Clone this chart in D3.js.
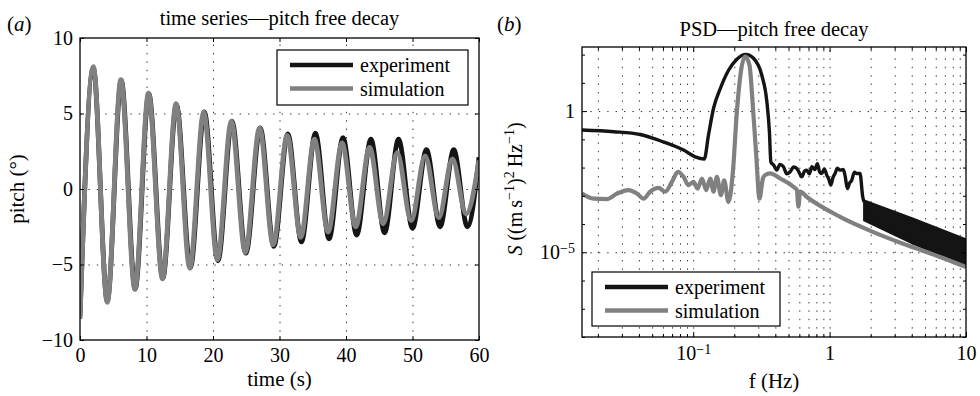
<!DOCTYPE html>
<html lang="en">
<head>
<meta charset="utf-8">
<title>pitch free decay</title>
<script src="https://cdn.jsdelivr.net/npm/d3@7"></script>
<style>
  body { margin: 0; background: #fff; }
  svg { display: block; }
  svg text { font-family: "Liberation Serif", "DejaVu Serif", serif; }
</style>
</head>
<body>
<div id="chart"></div>
<script>
const width = 980, height = 396;
const black = '#141414', grey = '#808080';

// (a) time series: peaks and troughs
const timeExp  = [0, 2.0, 4.1, 6.2, 8.3, 10.35, 12.45, 14.5, 16.6, 18.7, 20.75, 22.85, 24.95, 27.1, 29.15, 31.25, 33.3, 35.4, 37.45, 39.55, 41.6, 43.75, 45.8, 47.9, 50.0, 52.1, 54.15, 56.2, 58.25, 60];
const pitchExp = [-8.4, 8.0, -7.4, 7.2, -6.6, 6.3, -5.9, 5.6, -5.2, 5.1, -4.75, 4.5, -4.25, 4.05, -3.8, 3.65, -3.5, 3.7, -3.3, 3.4, -3.05, 3.3, -2.9, 3.3, -2.6, 2.6, -2.5, 2.6, -2.5, 2.1];
const timeSim  = [0, 2.0, 4.1, 6.15, 8.25, 10.3, 12.4, 14.45, 16.5, 18.6, 20.65, 22.75, 24.85, 27.0, 29.05, 31.15, 33.2, 35.25, 37.3, 39.4, 41.45, 43.55, 45.6, 47.7, 49.8, 51.9, 53.95, 56.0, 58.05, 60];
const pitchSim = [-8.6, 8.1, -7.5, 7.25, -6.65, 6.35, -5.95, 5.65, -5.25, 5.1, -4.7, 4.5, -4.2, 4.05, -3.7, 3.55, -3.2, 3.3, -2.85, 3.05, -2.5, 2.75, -2.3, 2.4, -2.1, 2.2, -1.9, 2.0, -1.65, 1.9];

// (b) PSD
const expFreq = [0.0153, 0.0261, 0.0409, 0.0605, 0.0849, 0.1035, 0.1205, 0.1294, 0.141, 0.158, 0.1816, 0.209, 0.243, 0.2767, 0.318, 0.347, 0.362, 0.371, 0.390, 0.410, 0.432, 0.459, 0.485, 0.514, 0.545, 0.575, 0.600, 0.626, 0.655, 0.681, 0.710, 0.741, 0.780, 0.814, 0.845, 0.877, 0.915, 0.953, 0.985, 1.02, 1.06, 1.097, 1.14, 1.19, 1.26, 1.30, 1.35, 1.40, 1.45, 1.52, 1.58, 1.67, 1.75, 1.79];
const expPsd  = [0.214, 0.186, 0.148, 0.081, 0.0417, 0.024, 0.020, 0.141, 1.26, 6.3, 28, 69, 102, 74, 19, 2.1, 0.186, 0.0158, 0.0120, 0.0081, 0.0130, 0.0107, 0.0060, 0.0071, 0.0105, 0.0093, 0.0065, 0.0047, 0.0075, 0.0081, 0.0060, 0.0107, 0.0085, 0.0138, 0.0070, 0.0062, 0.0090, 0.0054, 0.0040, 0.0024, 0.0045, 0.0062, 0.0095, 0.0081, 0.0085, 0.0050, 0.0018, 0.0028, 0.0035, 0.0068, 0.0062, 0.0062, 0.00091, 0.00060];
// fast oscillating part of the experiment above 1.8 Hz (upper / lower envelope)
const bandFreq = [1.79, 4.11, 10];
const bandHigh = [6.9e-4, 1.55e-4, 2.9e-5];
const bandLow  = [1.35e-4, 2.0e-5, 3.5e-6];

const simFreq = [0.0153, 0.0186, 0.0233, 0.0276, 0.0336, 0.0387, 0.0433, 0.0484, 0.0557, 0.0624, 0.0698, 0.0773, 0.0849, 0.0924, 0.1005, 0.1076, 0.1159, 0.1245, 0.1333, 0.1409, 0.1492, 0.1596, 0.1687, 0.1814, 0.1954, 0.209, 0.2235, 0.2403, 0.2585, 0.2735, 0.2897, 0.3061, 0.3243, 0.3367, 0.3664, 0.4337, 0.5427, 0.5754, 0.5905, 0.6081, 0.6808, 1.194, 2.094, 3.68, 6.46, 10];
const simPsd  = [1.2e-3, 7.9e-4, 7.6e-4, 1.2e-3, 1.6e-3, 1.2e-3, 7.9e-4, 1.4e-3, 1.9e-3, 1.4e-3, 3.1e-3, 7.1e-3, 4.7e-3, 2.4e-3, 3.1e-3, 1.8e-3, 4.1e-3, 1.6e-3, 4.1e-3, 1.4e-3, 4.7e-3, 1.05e-3, 3.5e-3, 6.0e-4, 7.1e-3, 0.95, 24.5, 85, 43, 1.6, 2.75e-2, 7.9e-4, 4.1e-3, 5.4e-3, 6.2e-3, 4.1e-3, 2.1e-3, 1.6e-3, 4.1e-4, 1.4e-3, 9.1e-4, 1.8e-4, 5.2e-5, 1.8e-5, 6.8e-6, 3.0e-6];

// ticks
const timeTicks = [0, 10, 20, 30, 40, 50, 60];
const pitchTicks = [-10, -5, 0, 5, 10];
const freqTicks = [0.1, 1, 10];
const psdTicks = [1e-5, 1];
const psdMinorTicks = [1e-8, 1e-7, 1e-6, 1e-4, 1e-3, 1e-2, 1e-1, 10, 100];
const legendNames = ['experiment', 'simulation'];

const a = { left: 80, right: 479, top: 38, bottom: 340 };
const b = { left: 582, right: 966, top: 47, bottom: 337 };

const svg = d3.select('#chart').append('svg')
  .attr('width', width).attr('height', height);

svg.append('rect').attr('width', width).attr('height', height).attr('fill', '#fff');

function styleAxis(g) {
  g.select('.domain').remove();
  g.attr('font-family', null).attr('font-size', 20);
  g.selectAll('.tick line').attr('stroke', '#000');
}

function dotted(g) {
  g.select('.domain').remove();
  g.selectAll('.tick line')
    .attr('stroke', '#333')
    .attr('stroke-width', 1)
    .attr('stroke-dasharray', '1.4,7');
}

// 10^n labels with a raised exponent
function powerLabel(text, v) {
  const e = Math.round(Math.log10(v));
  text.text(null);
  if (e === 0) { text.text('1'); return; }
  if (e === 1) { text.text('10'); return; }
  text.append('tspan').text('10');
  text.append('tspan').attr('dy', '-0.45em').attr('font-size', '0.7em').text('\u2212' + Math.abs(e));
}

function drawLegend(x, y, w, h) {
  const g = svg.append('g').attr('transform', `translate(${x},${y})`);
  g.append('rect').attr('width', w).attr('height', h)
    .attr('fill', '#fff').attr('stroke', '#000').attr('stroke-width', 1.2);
  [black, grey].forEach((c, i) => {
    const ly = 15 + i * 23.5;
    g.append('line').attr('x1', 13).attr('x2', 76).attr('y1', ly).attr('y2', ly)
      .attr('stroke', c).attr('stroke-width', 4.5);
    g.append('text').attr('x', 83).attr('y', ly + 7).attr('font-size', 20)
      .text(legendNames[i]);
  });
}

// ---------- (a) time series ----------
function drawTimePanel() {
  const x = d3.scaleLinear().domain([0, 60]).range([a.left, a.right]);
  const y = d3.scaleLinear().domain([-10, 10]).range([a.bottom, a.top]);

  svg.append('g').attr('transform', `translate(0,${a.bottom})`)
    .call(d3.axisBottom(x).tickValues(timeTicks.slice(1, -1)).tickSize(-(a.bottom - a.top)).tickFormat(''))
    .call(dotted);
  svg.append('g').attr('transform', `translate(${a.left},0)`)
    .call(d3.axisLeft(y).tickValues(pitchTicks.slice(1, -1)).tickSize(-(a.right - a.left)).tickFormat(''))
    .call(dotted);

  svg.append('clipPath').attr('id', 'clipA').append('rect')
    .attr('x', a.left).attr('y', a.top).attr('width', a.right - a.left).attr('height', a.bottom - a.top);

  const line = d3.line().x(d => x(d[0])).y(d => y(d[1])).curve(d3.curveMonotoneX);
  const lines = svg.append('g').attr('clip-path', 'url(#clipA)');
  lines.append('path').datum(d3.zip(timeExp, pitchExp)).attr('d', line)
    .attr('fill', 'none').attr('stroke', black).attr('stroke-width', 4.8);
  lines.append('path').datum(d3.zip(timeSim, pitchSim)).attr('d', line)
    .attr('fill', 'none').attr('stroke', grey).attr('stroke-width', 4.8);

  svg.append('g').attr('transform', `translate(0,${a.bottom})`)
    .call(d3.axisBottom(x).tickValues(timeTicks).tickSize(-4).tickSizeOuter(0).tickPadding(8))
    .call(styleAxis);
  svg.append('g').attr('transform', `translate(0,${a.top})`)
    .call(d3.axisTop(x).tickValues(timeTicks).tickSize(-4).tickSizeOuter(0).tickFormat(''))
    .call(styleAxis);
  svg.append('g').attr('transform', `translate(${a.left},0)`)
    .call(d3.axisLeft(y).tickValues(pitchTicks).tickSize(-4).tickSizeOuter(0).tickPadding(7))
    .call(styleAxis);
  svg.append('g').attr('transform', `translate(${a.right},0)`)
    .call(d3.axisRight(y).tickValues(pitchTicks).tickSize(-4).tickSizeOuter(0).tickFormat(''))
    .call(styleAxis);

  svg.append('rect').attr('x', a.left).attr('y', a.top)
    .attr('width', a.right - a.left).attr('height', a.bottom - a.top)
    .attr('fill', 'none').attr('stroke', '#000').attr('stroke-width', 1.3);

  drawLegend(277, 50, 191, 55);

  svg.append('text').attr('x', (a.left + a.right) / 2).attr('y', 25)
    .attr('text-anchor', 'middle').attr('font-size', 20.5).text('time series\u2014pitch free decay');
  svg.append('text').attr('x', (a.left + a.right) / 2).attr('y', 386)
    .attr('text-anchor', 'middle').attr('font-size', 21).text('time (s)');
  svg.append('text').attr('transform', 'translate(24,189) rotate(-90)')
    .attr('text-anchor', 'middle').attr('font-size', 21).text('pitch (\u00b0)');
  const lab = svg.append('text').attr('x', 7).attr('y', 31).attr('font-size', 21);
  lab.append('tspan').text('(');
  lab.append('tspan').attr('font-style', 'italic').text('a');
  lab.append('tspan').text(')');
}

// ---------- (b) PSD ----------
function drawPsdPanel() {
  const x = d3.scaleLog().domain([0.0153, 10]).range([b.left, b.right]);
  const y = d3.scaleLog().domain([1e-8, 186]).range([b.bottom, b.top]);
  const freqMinor = x.ticks().filter(v => !freqTicks.some(t => Math.abs(t - v) < 1e-9));

  svg.append('g').attr('transform', `translate(0,${b.bottom})`)
    .call(d3.axisBottom(x).tickValues(x.ticks().filter(v => v < 10)).tickSize(-(b.bottom - b.top)).tickFormat(''))
    .call(dotted);
  svg.append('g').attr('transform', `translate(${b.left},0)`)
    .call(d3.axisLeft(y).tickValues(psdTicks).tickSize(-(b.right - b.left)).tickFormat(''))
    .call(dotted);

  svg.append('clipPath').attr('id', 'clipB').append('rect')
    .attr('x', b.left).attr('y', b.top).attr('width', b.right - b.left).attr('height', b.bottom - b.top);

  const line = d3.line().x(d => x(d[0])).y(d => y(d[1])).curve(d3.curveMonotoneX);
  const area = d3.area().x(d => x(d[0])).y0(d => y(d[1])).y1(d => y(d[2]));
  const g = svg.append('g').attr('clip-path', 'url(#clipB)');

  g.append('path').datum(d3.zip(bandFreq, bandLow, bandHigh)).attr('d', area)
    .attr('fill', black).attr('stroke', black).attr('stroke-width', 2);
  g.append('path').datum(d3.zip(expFreq, expPsd)).attr('d', line)
    .attr('fill', 'none').attr('stroke', black).attr('stroke-width', 3.4);
  g.append('path').datum(d3.zip(simFreq, simPsd)).attr('d', line)
    .attr('fill', 'none').attr('stroke', grey).attr('stroke-width', 4.2);

  // axes: major ticks with labels, minor ticks shorter
  svg.append('g').attr('transform', `translate(0,${b.bottom})`)
    .call(d3.axisBottom(x).tickValues(freqTicks).tickSize(-5).tickSizeOuter(0).tickPadding(9))
    .call(styleAxis)
    .call(g => g.selectAll('.tick text').each(function (d) { powerLabel(d3.select(this), d); }));
  svg.append('g').attr('transform', `translate(0,${b.bottom})`)
    .call(d3.axisBottom(x).tickValues(freqMinor).tickSize(-3).tickSizeOuter(0).tickFormat(''))
    .call(styleAxis);
  svg.append('g').attr('transform', `translate(0,${b.top})`)
    .call(d3.axisTop(x).tickValues(freqTicks).tickSize(-5).tickSizeOuter(0).tickFormat(''))
    .call(styleAxis);
  svg.append('g').attr('transform', `translate(0,${b.top})`)
    .call(d3.axisTop(x).tickValues(freqMinor).tickSize(-3).tickSizeOuter(0).tickFormat(''))
    .call(styleAxis);
  svg.append('g').attr('transform', `translate(${b.left},0)`)
    .call(d3.axisLeft(y).tickValues(psdTicks).tickSize(-5).tickSizeOuter(0).tickPadding(7))
    .call(styleAxis)
    .call(g => g.selectAll('.tick text').each(function (d) { powerLabel(d3.select(this), d); }));
  svg.append('g').attr('transform', `translate(${b.left},0)`)
    .call(d3.axisLeft(y).tickValues(psdMinorTicks).tickSize(-3).tickSizeOuter(0).tickFormat(''))
    .call(styleAxis);
  svg.append('g').attr('transform', `translate(${b.right},0)`)
    .call(d3.axisRight(y).tickValues(psdTicks).tickSize(-5).tickSizeOuter(0).tickFormat(''))
    .call(styleAxis);
  svg.append('g').attr('transform', `translate(${b.right},0)`)
    .call(d3.axisRight(y).tickValues(psdMinorTicks).tickSize(-3).tickSizeOuter(0).tickFormat(''))
    .call(styleAxis);

  svg.append('rect').attr('x', b.left).attr('y', b.top)
    .attr('width', b.right - b.left).attr('height', b.bottom - b.top)
    .attr('fill', 'none').attr('stroke', '#000').attr('stroke-width', 1.3);

  drawLegend(592, 272, 188, 54);

  svg.append('text').attr('x', (b.left + b.right) / 2).attr('y', 36)
    .attr('text-anchor', 'middle').attr('font-size', 20.5).text('PSD\u2014pitch free decay');
  svg.append('text').attr('x', (b.left + b.right) / 2).attr('y', 388)
    .attr('text-anchor', 'middle').attr('font-size', 21).text('f (Hz)');

  const yl = svg.append('text').attr('transform', 'translate(522,189) rotate(-90)')
    .attr('text-anchor', 'middle').attr('font-size', 20);
  yl.append('tspan').attr('font-style', 'italic').text('S');
  yl.append('tspan').text(' ((m\u2009s');
  yl.append('tspan').attr('dy', -8).attr('font-size', 14).text('\u22121');
  yl.append('tspan').attr('dy', 8).text(')');
  yl.append('tspan').attr('dy', -8).attr('font-size', 14).text('2');
  yl.append('tspan').attr('dy', 8).text('\u2009Hz');
  yl.append('tspan').attr('dy', -8).attr('font-size', 14).text('\u22121');
  yl.append('tspan').attr('dy', 8).text(')');

  const lab = svg.append('text').attr('x', 497).attr('y', 31).attr('font-size', 21);
  lab.append('tspan').text('(');
  lab.append('tspan').attr('font-style', 'italic').text('b');
  lab.append('tspan').text(')');
}

function init() {
  drawTimePanel();
  drawPsdPanel();
}

init();
</script>
</body>
</html>
